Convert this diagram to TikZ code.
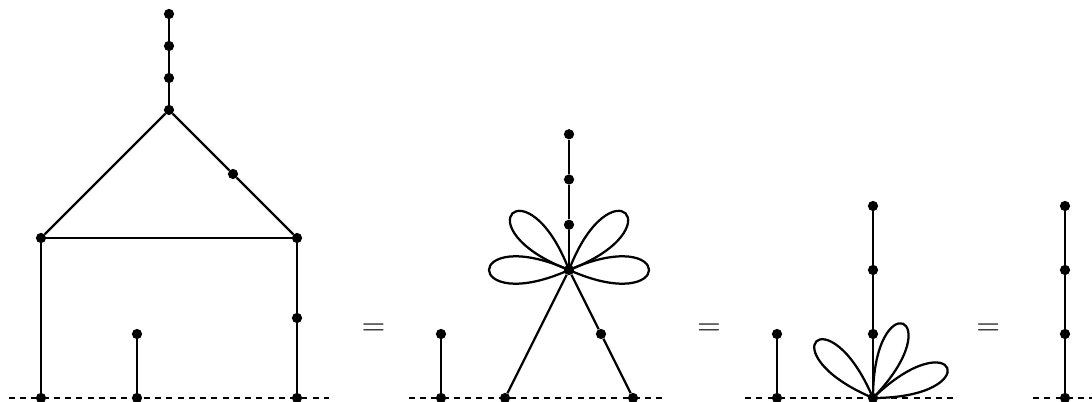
\documentclass[tikz,border=0pt]{standalone}
\begin{document}
\begin{tikzpicture}[x=1cm,y=1cm,
  dot/.style={circle,fill=black,inner sep=0pt,minimum size=0.32cm},
  edge/.style={line width=2pt},
  baseline/.style={line width=0.9pt,dash pattern=on 5.3pt off 4.7pt},
  eqsign/.style={anchor=base,inner sep=0pt,font=\fontsize{28.8}{30}\selectfont}]
\useasboundingbox (-1.28125,-0.12) rectangle (32.84375,12.4375);

% ---------- figure 1 ----------
\coordinate (b1l) at (-1,0);
\coordinate (b1r) at (9,0);
\draw[baseline] (b1l) -- (b1r);
\node[dot] (a1) at (4,12) {};
\node[dot] (a2) at (4,11) {};
\node[dot] (a3) at (4,10) {};
\node[dot] (a4) at (4,9) {};
\node[dot] (a5) at (0,5) {};
\node[dot] (a6) at (8,5) {};
\node[dot] (a7) at (6,7) {};
\node[dot] (a8) at (0,0) {};
\node[dot] (a9) at (8,0) {};
\node[dot] (a10) at (8,2.5) {};
\node[dot] (a11) at (3,2) {};
\node[dot] (a12) at (3,0) {};
\draw[edge] (a1) -- (a2) -- (a3) -- (a4);
\draw[edge] (a4) -- (a5);
\draw[edge] (a4) -- (a7) -- (a6);
\draw[edge] (a5) -- (a6);
\draw[edge] (a5) -- (a8);
\draw[edge] (a6) -- (a10) -- (a9);
\draw[edge] (a11) -- (a12);

\node[eqsign] (eq1) at (10.39,1.967) {=};

% ---------- figure 2 ----------
\coordinate (b2l) at (11.5,0);
\coordinate (b2r) at (19.5,0);
\draw[baseline] (b2l) -- (b2r);
\node[dot] (c1) at (12.5,2) {};
\node[dot] (c2) at (12.5,0) {};
\node[dot] (c3) at (14.5,0) {};
\node[dot] (c4) at (18.5,0) {};
\node[dot] (c5) at (17.5,2) {};
\node[dot] (c6) at (16.5,4) {};
\node[dot] (c7) at (16.5,5.414) {};
\node[dot] (c8) at (16.5,6.828) {};
\node[dot] (c9) at (16.5,8.242) {};
\draw[edge] (c1) -- (c2);
\draw[edge] (c6) -- (c3);
\draw[edge] (c6) -- (c5) -- (c4);
\draw[edge] (c6) -- (c7) -- (c8) -- (c9);
\foreach \a in {0,45,135,180}{
  \draw[edge] (c6.center) .. controls +(\a-24:3.65) and +(\a+24:3.65) .. (c6.center);
}

\node[eqsign] (eq2) at (20.875,1.967) {=};

% ---------- figure 3 ----------
\coordinate (b3l) at (22,0);
\coordinate (b3r) at (28.5,0);
\draw[baseline] (b3l) -- (b3r);
\node[dot] (d1) at (23,2) {};
\node[dot] (d2) at (23,0) {};
\node[dot] (d3) at (26,0) {};
\node[dot] (d4) at (26,2) {};
\node[dot] (d5) at (26,4) {};
\node[dot] (d6) at (26,6) {};
\draw[edge] (d1) -- (d2);
\draw[edge] (d3) -- (d4) -- (d5) -- (d6);
\foreach \a in {22,68,135}{
  \draw[edge] (d3.center) .. controls +(\a-22:3.6) and +(\a+22:3.6) .. (d3.center);
}

\node[eqsign] (eq3) at (29.6,1.967) {=};

% ---------- figure 4 ----------
\coordinate (b4l) at (31,0);
\coordinate (b4r) at (34,0);
\draw[baseline] (b4l) -- (b4r);
\node[dot] (e1) at (32,0) {};
\node[dot] (e2) at (32,2) {};
\node[dot] (e3) at (32,4) {};
\node[dot] (e4) at (32,6) {};
\draw[edge] (e1) -- (e2) -- (e3) -- (e4);
\end{tikzpicture}
\end{document}
